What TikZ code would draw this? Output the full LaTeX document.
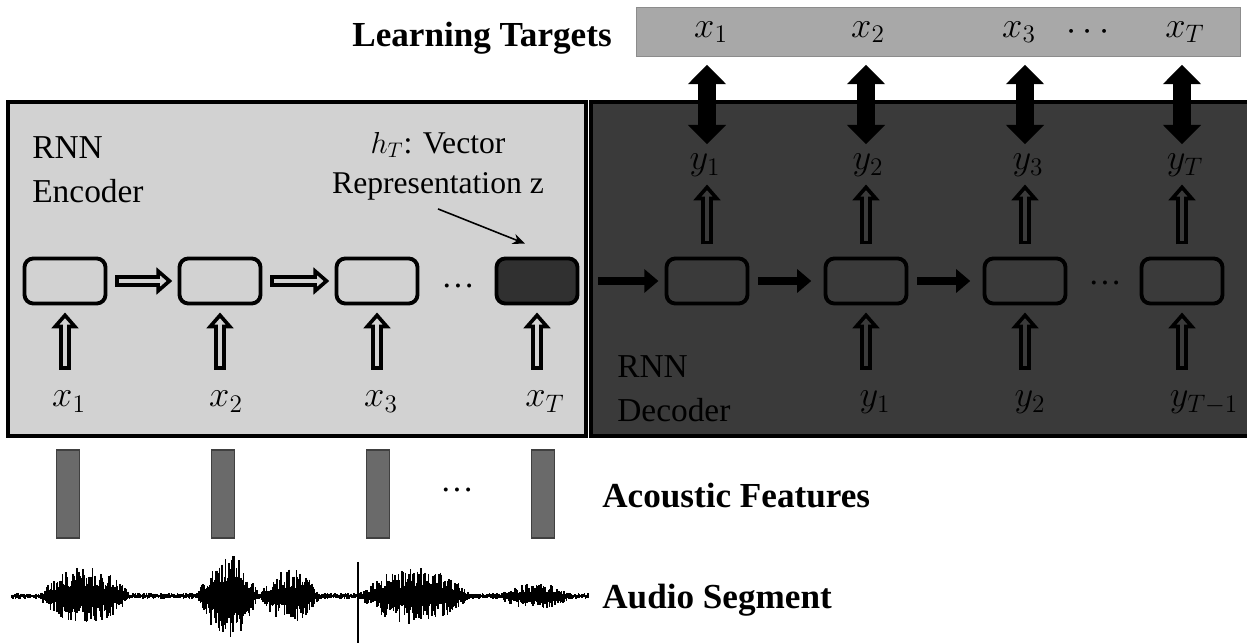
\documentclass[tikz,border=0pt]{standalone}
\usepackage{fontspec}
\setmainfont{Liberation Serif}
\usetikzlibrary{positioning,calc,arrows.meta}
\definecolor{encbg}{HTML}{D2D2D2}
\definecolor{decbg}{HTML}{3A3A3A}
\definecolor{tgtbg}{HTML}{A8A8A8}
\definecolor{featbg}{HTML}{6A6A6A}
\definecolor{lastcell}{HTML}{303030}

\begin{document}
\begin{tikzpicture}[x=0.02cm, y=-0.02cm,
  panel/.style={draw=black, line width=2pt},
  cell/.style={draw=black, line width=2.2pt, rounded corners=5pt, minimum width=1.62cm, minimum height=0.9cm, inner sep=0pt},
  hollow/.style n args={3}{draw=black, line width=7pt, shorten <=#2, shorten >=#3, -{Triangle[length=9pt,width=15pt]},
    postaction={draw=#1, line width=2.8pt, shorten <=#2+2.1pt, shorten >=#3+3.3pt, -{Triangle[length=3.6pt,width=6pt]}}},
  solidarrow/.style={line width=4.5pt, -{Triangle[length=8pt,width=13pt]}},
  bigarrow/.style={line width=10pt, {Triangle[length=11pt,width=21pt]}-{Triangle[length=11pt,width=21pt]}},
  lbl/.style={font=\fontsize{19}{25}\selectfont, align=left, inner sep=0pt},
  var/.style={font=\fontsize{22}{26}\selectfont, inner sep=1pt},
  title/.style={font=\fontsize{20}{24}\selectfont\bfseries, inner sep=0pt},
  feat/.style={draw=black!75, line width=0.8pt, fill=featbg, minimum width=0.46cm, minimum height=1.76cm, inner sep=0pt}
]
  \useasboundingbox (0,0) rectangle (1247,644);
  \fill[white] (0,0) rectangle (1247,644);

  % learning targets
  \node[fill=tgtbg, draw=black!45, minimum width=12.08cm, minimum height=0.98cm, inner sep=0pt] (tgt) at (938,32) {};
  \node[title, anchor=base east] (tgtlbl) at (612,47) {Learning Targets};
  \node[var] (t1) at (711,32) {$x_1$};
  \node[var] (t2) at (868,32) {$x_2$};
  \node[var] (t3) at (1019,32) {$x_3$};
  \node[var] (tdots) at (1088,32) {$\cdots$};
  \node[var] (tT) at (1185,32) {$x_T$};

  % the two panels
  \draw[panel, fill=encbg] (8,102) rectangle (586,436);
  \draw[panel, fill=decbg] (591,102) rectangle (1256,436);

  % encoder
  \node[lbl, anchor=north west] (enclbl) at (32,136) {RNN\\Encoder};
  \node[lbl, font=\fontsize{18}{23}\selectfont, align=center, anchor=north] (zlbl) at (438,132) {$h_T$: Vector\\Representation z};
  \foreach \n/\px in {1/65,2/220,3/377} {
    \node[cell] (e\n) at (\px,281) {};
  }
  \node[cell, fill=lastcell] (e4) at (537,281) {};
  \node[lbl] (edots) at (458,286) {\dots};
  \foreach \n/\px/\sub in {1/69/1,2/226/2,3/381/3,4/545/T} {
    \node[var, anchor=base] (x\n) at (\px,407) {$x_\sub$};
    \draw[hollow={encbg}{11pt}{4pt}] (e\n.south |- x\n.north) -- (e\n.south);
  }
  \draw[hollow={encbg}{4.5pt}{3pt}] (e1.east) -- (e2.west);
  \draw[hollow={encbg}{4.5pt}{3pt}] (e2.east) -- (e3.west);
  \draw[line width=0.9pt, -{Stealth[length=7pt,width=6pt]}] ($(zlbl.south)+(0,8)$) -- ($(e4.north)+(-12,-13)$);

  % decoder
  \node[lbl, anchor=north west] (declbl) at (617,355) {RNN\\Decoder};
  \coordinate (dstart) at (598,281);
  \foreach \n/\px in {1/707,2/866,3/1025,4/1182} {
    \node[cell] (d\n) at (\px,281) {};
  }
  \node[lbl] (ddots) at (1105,283) {\dots};
  \draw[solidarrow, shorten >=3.5pt] (dstart) -- (d1.west);
  \draw[solidarrow, shorten <=5pt, shorten >=7pt] (d1.east) -- (d2.west);
  \draw[solidarrow, shorten <=5pt, shorten >=7pt] (d2.east) -- (d3.west);
  \foreach \n/\px/\sub in {1/705/1,2/868/2,3/1028/3,4/1185/T} {
    \node[var, anchor=base] (yo\n) at (\px,170) {$y_\sub$};
    \draw[hollow={decbg}{7pt}{3pt}] (d\n.north) -- (d\n.north |- yo\n.south);
    \draw[bigarrow, shorten <=4.5pt, shorten >=4.5pt] (tgt.south -| d\n.north) -- (d\n.north |- yo\n.north);
  }
  \foreach \n/\c/\px/\sub in {1/2/875/1,2/3/1030/2,3/4/1204/{T-1}} {
    \node[var, anchor=base] (yi\n) at (\px,407) {$y_{\sub}$};
    \draw[hollow={decbg}{11pt}{4pt}] (d\c.south |- yi\n.north) -- (d\c.south);
  }

  % acoustic features
  \foreach \n/\px in {1/68,2/223,3/378,4/543} {
    \node[feat] (f\n) at (\px,494) {};
  }
  \node[lbl] (fdots) at (457,490) {\dots};
  \node[title, anchor=base west] (featlbl) at (602,508) {Acoustic Features};

  % audio segment
  \pgfmathsetseed{42}
  \foreach \i in {0,...,480} {
    \pgfmathsetmacro{\wx}{12+1.2*\i}
    \pgfmathsetmacro{\wenv}{3 + 26*max(0,1-((\wx-85)/45)^2) + 40*max(0,1-((\wx-228)/30)^2) + 24*max(0,1-((\wx-290)/30)^2) + 26*max(0,1-((\wx-415)/55)^2) + 10*max(0,1-((\wx-535)/35)^2)}
    \pgfmathsetmacro{\wup}{\wenv*(0.3+0.7*rnd)}
    \pgfmathsetmacro{\wdn}{\wenv*(0.3+0.7*rnd)}
    \draw[line width=0.9pt] (\wx,596-\wup) -- (\wx,596+\wdn);
  }
  \draw[line width=1.2pt] (12,596) -- (589,596);
  \draw[line width=1.4pt] (358,562) -- (358,643);
  \node[title, anchor=base west] (audiolbl) at (602,608) {Audio Segment};
\end{tikzpicture}
\end{document}
